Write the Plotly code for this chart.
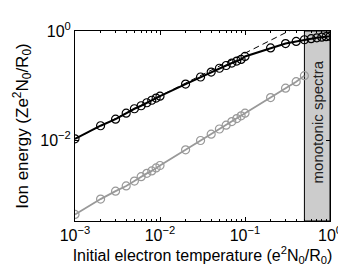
import plotly.graph_objects as go

# temperatures (x)
temp_black = [1e-3, 2e-3, 3e-3, 4e-3, 5e-3, 6e-3, 7e-3, 8e-3, 9e-3,
              1e-2, 2e-2, 3e-2, 4e-2, 5e-2, 6e-2, 7e-2, 8e-2, 9e-2,
              0.1, 0.2, 0.3, 0.4, 0.5, 0.6, 0.7, 0.8, 0.9, 1.0]
log_energy_black = [-1.97, -1.73, -1.61, -1.50, -1.42, -1.365, -1.31, -1.265, -1.225,
                    -1.19, -0.97, -0.84, -0.75, -0.68, -0.63, -0.585, -0.55, -0.52,
                    -0.465, -0.31, -0.23, -0.19, -0.16, -0.14, -0.125, -0.113, -0.104, -0.097]
energy_black = [10 ** v for v in log_energy_black]

temp_gray = [1e-3, 2e-3, 3e-3, 4e-3, 5e-3, 6e-3, 7e-3, 8e-3, 9e-3,
             1e-2, 2e-2, 3e-2, 4e-2, 5e-2, 6e-2, 7e-2, 8e-2, 9e-2,
             0.1, 0.2, 0.3, 0.4, 0.5]
log_energy_gray = [-3.35, -3.07, -2.925, -2.83, -2.74, -2.66, -2.60, -2.555, -2.50,
                   -2.456, -2.17, -2.00, -1.885, -1.79, -1.72, -1.655, -1.60, -1.55,
                   -1.50, -1.215, -1.045, -0.925, -0.815]
energy_gray = [10 ** v for v in log_energy_gray]

# power-law guide (dashed)
guide_x = [1e-3, 0.6]
guide_y = [0.0107, 1.6]

# shaded region
shade_x = [0.5, 1.0, 1.0, 0.5, 0.5]
shade_y = [10 ** -3.47, 10 ** -3.47, 1.0, 1.0, 10 ** -3.47]

x_tickvals = [1e-3, 1e-2, 1e-1, 1]
x_ticktext = ["10<sup>−3</sup>", "10<sup>−2</sup>", "10<sup>−1</sup>", "10<sup>0</sup>"]
y_tickvals = [1e-2, 1]
y_ticktext = ["10<sup>−2</sup>", "10<sup>0</sup>"]
x_minor = [k * 10 ** e for e in (-3, -2, -1) for k in range(2, 10)]

FONT = "Liberation Sans, Arial, sans-serif"

fig = go.Figure()
fig.add_trace(go.Scatter(x=shade_x, y=shade_y, fill="toself", fillcolor="#cccccc",
                         mode="lines", line=dict(color="black", width=1),
                         hoverinfo="skip", showlegend=False))
fig.add_trace(go.Scatter(x=guide_x, y=guide_y, mode="lines",
                         line=dict(color="black", width=1, dash="6px,4px"),
                         showlegend=False))
fig.add_trace(go.Scatter(x=temp_gray, y=energy_gray, mode="lines+markers",
                         line=dict(color="#999999", width=1.8),
                         marker=dict(symbol="circle-open", size=8, color="#999999",
                                     line=dict(width=1.2, color="#999999")),
                         showlegend=False))
fig.add_trace(go.Scatter(x=temp_black, y=energy_black, mode="lines+markers",
                         line=dict(color="black", width=2),
                         marker=dict(symbol="circle-open", size=8, color="black",
                                     line=dict(width=1.2, color="black")),
                         showlegend=False))

fig.add_annotation(text="monotonic spectra", xref="paper", yref="paper",
                   x=0.95, y=0.52, xanchor="center", yanchor="middle",
                   textangle=-90, showarrow=False,
                   font=dict(family=FONT, size=15, color="#222"))

fig.update_layout(
    width=346, height=272,
    margin=dict(l=67, r=17, t=18, b=59),
    paper_bgcolor="white", plot_bgcolor="white",
    font=dict(family=FONT, size=14, color="black"),
)
fig.update_xaxes(type="log", range=[-3, 0], tickvals=x_tickvals, ticktext=x_ticktext,
                 showgrid=False, zeroline=False, showline=True, linecolor="black",
                 linewidth=1, mirror="ticks", ticks="inside", ticklen=4,
                 tickcolor="black",
                 minor=dict(tickvals=x_minor, ticks="inside", ticklen=2,
                            tickcolor="black", showgrid=False),
                 tickfont=dict(size=16),
                 title=dict(text="Initial electron temperature (e<sup>2</sup>N<sub>0</sub>/R<sub>0</sub>)",
                            font=dict(size=16), standoff=0))
fig.update_yaxes(type="log", range=[-3.47, 0], tickvals=y_tickvals, ticktext=y_ticktext,
                 showgrid=False, zeroline=False, showline=True, linecolor="black",
                 linewidth=1, mirror="ticks", ticks="inside", ticklen=4,
                 tickcolor="black", tickfont=dict(size=16),
                 title=dict(text="Ion energy (Ze<sup>2</sup>N<sub>0</sub>/R<sub>0</sub>)",
                            font=dict(size=17), standoff=7))

fig.write_html("out.html")
